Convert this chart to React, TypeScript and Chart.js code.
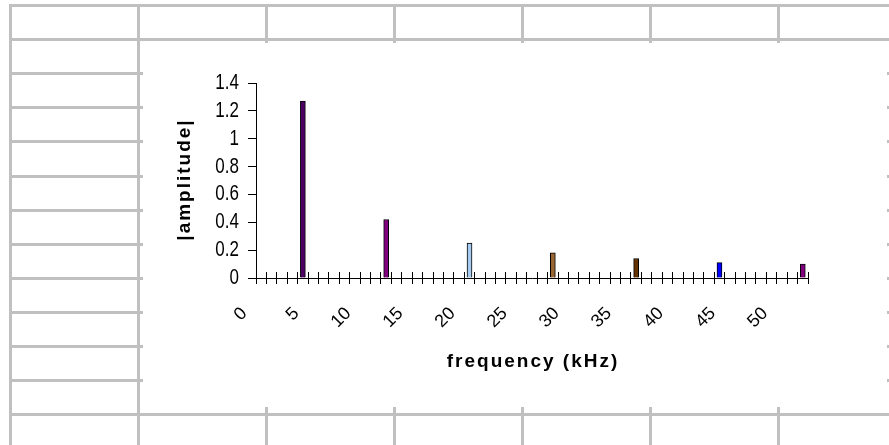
import React, { useEffect, useRef } from 'react';
import { Chart, registerables } from 'chart.js';

Chart.register(...registerables);

// Category axis: frequency bins
const categories = [
  '0', '1', '2', '3', '4', '5', '6', '7', '8', '9',
  '10', '11', '12', '13', '14', '15', '16', '17', '18', '19',
  '20', '21', '22', '23', '24', '25', '26', '27', '28', '29',
  '30', '31', '32', '33', '34', '35', '36', '37', '38', '39',
  '40', '41', '42', '43', '44', '45', '46', '47', '48', '49',
  '50', '51', '52',
];
// Labels shown on the x axis
const xTickLabels = ['0', '5', '10', '15', '20', '25', '30', '35', '40', '45', '50'];
// Labels on the y axis
const yTickLabels = ['0', '0.2', '0.4', '0.6', '0.8', '1', '1.2', '1.4'];

// Spectral lines
const peakFrequencies = ['4', '12', '20', '28', '36', '44', '52'];
const peakAmplitudes = [1.27, 0.42, 0.25, 0.18, 0.14, 0.11, 0.1];
const peakColors = ['#4b0062', '#800080', '#a6caf0', '#996633', '#663300', '#0000ff', '#800080'];

const yMin = 0;
const yMax = 1.4;
const yStep = 0.2;

const xTitle = 'frequency (kHz)';
const yTitle = '|amplitude|';

// Spreadsheet cell grid (decoration behind the embedded chart)
const sheetRows = [5, 39, 73, 107, 141, 176, 210, 244, 278, 312, 346, 380, 414];
const sheetCols = [10, 138, 266, 394, 522, 650, 778];

const FONT = '"Liberation Sans", Arial, sans-serif';

const axisDecorPlugin = {
  id: 'axisDecor',
  beforeDatasetsDraw(chart: any) {
    const xs = chart.scales.x;
    const ctx = chart.ctx;
    const n = xs.ticks.length;
    const w = (xs.right - xs.left) / n;
    ctx.save();
    ctx.strokeStyle = '#000';
    ctx.lineWidth = 1;
    ctx.beginPath();
    for (let i = 0; i <= n; i++) {
      const x = Math.round(xs.left + i * w - 0.5) + 0.5;
      ctx.moveTo(x, xs.top - 6);
      ctx.lineTo(x, xs.top);
    }
    ctx.stroke();
    ctx.restore();
  },
  afterDraw(chart: any) {
    const xs = chart.scales.x;
    const ys = chart.scales.y;
    const ctx = chart.ctx;
    ctx.save();
    ctx.fillStyle = '#000';
    ctx.textBaseline = 'middle';

    // y tick labels (tall Excel-style glyphs)
    ctx.font = '17px ' + FONT;
    ctx.textAlign = 'right';
    ys.ticks.forEach((t: any, i: number) => {
      const y = ys.getPixelForValue(t.value);
      ctx.save();
      ctx.translate(ys.right - 8 - 9, y);
      ctx.scale(1, 1.27);
      ctx.fillText(yTickLabels[i], 0, 0);
      ctx.restore();
    });

    // axis titles
    ctx.font = 'bold 19px ' + FONT;
    (ctx as any).letterSpacing = '2px';
    ctx.textAlign = 'center';
    ctx.fillText(xTitle, (xs.left + xs.right) / 2 + 1, xs.bottom - 11.4);
    ctx.translate(ys.left + 14, (ys.top + ys.bottom) / 2);
    ctx.rotate(-Math.PI / 2);
    ctx.fillText(yTitle, 1, 0);
    ctx.restore();
  },
};

export default function App() {
  const canvasRef = useRef<HTMLCanvasElement | null>(null);

  useEffect(() => {
    if (!canvasRef.current) return;
    const chart = new Chart(canvasRef.current, {
      type: 'bar',
      data: {
        labels: categories,
        datasets: [
          {
            data: peakFrequencies.map((f, i) => ({ x: f, y: peakAmplitudes[i] })),
            backgroundColor: peakColors,
            borderColor: '#000',
            borderWidth: 1,
            barThickness: 5,
          },
        ],
      },
      options: {
        responsive: false,
        animation: false,
        devicePixelRatio: 1,
        layout: { padding: { left: 28, top: 40, right: 79, bottom: 34 } },
        plugins: {
          legend: { display: false },
          tooltip: { enabled: false },
          title: { display: false },
        },
        scales: {
          x: {
            type: 'category',
            offset: true,
            grid: {
              display: true,
              offset: true,
              drawOnChartArea: false,
              drawTicks: true,
              tickLength: 6,
              color: '#000',
              lineWidth: 1,
            },
            border: { display: true, color: '#000', width: 1 },
            ticks: {
              autoSkip: false,
              minRotation: 45,
              maxRotation: 45,
              padding: 19,
              labelOffset: -17,
              color: '#000',
              font: { family: FONT, size: 18 },
              callback: (_v: any, i: number) => (xTickLabels.includes(categories[i]) ? categories[i] : ''),
            },
            title: { display: false },
            afterFit: (s: any) => {
              s.height = 95;
            },
          },
          y: {
            type: 'linear',
            min: yMin,
            max: yMax,
            grid: {
              display: true,
              drawOnChartArea: false,
              drawTicks: true,
              tickLength: 8,
              color: '#000',
              lineWidth: 1,
            },
            border: { display: true, color: '#000', width: 1 },
            ticks: {
              display: false,
              autoSkip: false,
              stepSize: yStep,
            },
            title: { display: false },
            afterFit: (s: any) => {
              s.width = 85;
            },
          },
        },
      },
      plugins: [axisDecorPlugin],
    });
    return () => chart.destroy();
  }, []);

  return (
    <div
      style={{
        position: 'fixed',
        left: 0,
        top: 0,
        width: 889,
        height: 445,
        background: '#fff',
        overflow: 'hidden',
      }}
    >
      {sheetRows.map((y) => (
        <div
          key={'r' + y}
          style={{ position: 'absolute', left: 9, top: y - 1, width: 880, height: 3, background: '#c0c0c0' }}
        />
      ))}
      {sheetCols.map((x) => (
        <div
          key={'c' + x}
          style={{ position: 'absolute', left: x - 1, top: 4, width: 3, height: 441, background: '#c0c0c0' }}
        />
      ))}
      <canvas
        ref={canvasRef}
        width={744}
        height={364}
        style={{ position: 'absolute', left: 143, top: 43, width: 744, height: 364, background: '#fff' }}
      />
    </div>
  );
}
